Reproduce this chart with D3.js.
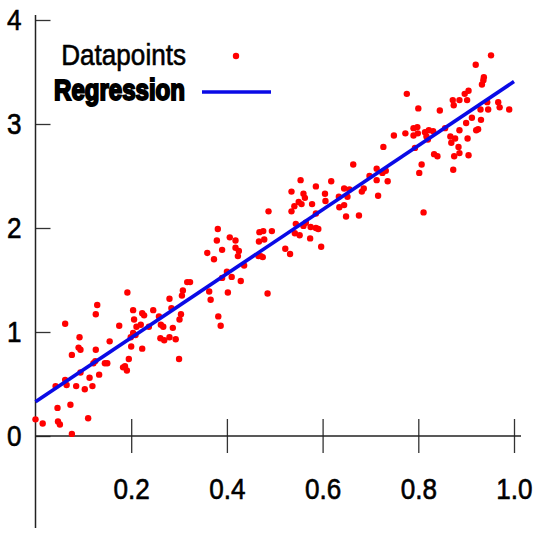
<!DOCTYPE html>
<html>
<head>
<meta charset="utf-8">
<script src="https://cdn.jsdelivr.net/npm/d3@7"></script>
<style>
  html, body { margin: 0; padding: 0; background: #fff; }
  svg { display: block; }
</style>
</head>
<body>
<svg width="536" height="536"></svg>
<script>
//data (x, y)
const points = [
  [0.000,0.16],[0.015,0.12],[0.076,0.02],[0.047,0.14],[0.051,0.11],[0.046,0.27],[0.073,0.30],[0.110,0.17],
  [0.042,0.48],[0.062,0.54],[0.065,0.49],[0.085,0.48],[0.103,0.45],[0.094,0.61],[0.113,0.56],[0.119,0.48],
  [0.133,0.59],[0.076,0.78],[0.090,0.85],[0.094,0.83],[0.092,0.95],[0.062,1.08],[0.126,0.83],[0.121,0.70],
  [0.125,0.72],[0.145,0.70],[0.150,0.70],[0.155,0.91],[0.126,1.17],[0.129,1.26],[0.175,1.06],[0.192,1.38],
  [0.183,0.66],[0.187,0.67],[0.191,0.63],[0.195,0.74],[0.200,0.86],[0.223,0.84],[0.199,0.95],[0.204,0.99],
  [0.209,0.97],[0.211,1.05],[0.220,1.07],[0.206,1.12],[0.204,1.21],[0.223,1.18],[0.227,1.16],[0.246,1.21],
  [0.237,1.05],[0.258,1.15],[0.262,1.07],[0.267,1.05],[0.261,0.94],[0.269,0.92],[0.280,0.95],[0.293,0.93],
  [0.287,1.04],[0.300,0.74],[0.301,1.12],[0.304,1.17],[0.280,1.32],[0.284,1.23],[0.306,1.35],[0.308,1.40],
  [0.317,1.48],[0.323,1.48],
  [0.363,1.39],[0.366,1.31],[0.382,1.15],[0.387,1.06],[0.402,1.38],[0.390,1.52],[0.400,1.58],[0.410,1.53],
  [0.429,1.49],[0.436,1.64],[0.359,1.76],[0.373,1.70],[0.390,1.79],[0.379,1.88],[0.381,1.99],[0.406,1.91],
  [0.418,1.88],[0.418,1.81],[0.425,1.78],[0.423,1.73],[0.466,1.73],[0.471,1.73],[0.475,1.72],[0.467,1.87],
  [0.478,1.89],[0.468,1.96],[0.476,1.97],[0.494,1.97],[0.487,2.16],[0.485,1.37],[0.522,1.80],[0.532,1.75],
  [0.535,2.35],[0.535,2.16],[0.541,2.21],[0.550,2.25],[0.556,2.23],[0.560,2.33],[0.563,2.29],[0.554,2.46],
  [0.586,2.40],[0.618,2.45],[0.605,2.33],[0.606,2.26],[0.578,2.23],[0.586,2.14],[0.544,2.04],[0.542,1.95],
  [0.552,1.93],[0.560,2.02],[0.565,2.05],[0.575,2.01],[0.586,2.00],[0.591,1.99],[0.574,1.90],[0.597,1.82],
  [0.634,2.30],[0.635,2.20],
  [0.645,2.22],[0.649,2.11],[0.645,2.38],[0.656,2.37],[0.652,2.30],[0.676,2.12],[0.682,2.35],[0.686,2.38],
  [0.664,2.61],[0.698,2.50],[0.713,2.57],[0.713,2.46],[0.716,2.31],[0.725,2.53],[0.732,2.55],[0.736,2.45],
  [0.727,2.78],[0.749,2.89],[0.773,2.91],[0.776,3.29],[0.790,2.96],[0.790,2.89],[0.798,2.97],[0.799,2.91],
  [0.793,2.77],[0.800,3.15],[0.807,2.61],[0.802,2.53],[0.811,2.15],[0.814,2.92],[0.817,2.88],[0.822,2.94],
  [0.820,2.85],[0.831,2.93],[0.833,2.71],[0.840,2.69],[0.845,3.13],[0.856,2.96],[0.867,2.88],[0.869,2.82],
  [0.877,2.86],[0.875,2.69],[0.884,2.78],[0.886,2.72],[0.873,2.56],[0.886,2.94],[0.872,3.23],[0.874,3.18],
  [0.886,3.23],[0.897,3.29],[0.905,3.32],[0.902,3.23],[0.900,3.01],[0.903,2.86],[0.905,2.70],[0.912,3.06],
  [0.921,2.94],[0.925,2.95],[0.931,3.04],[0.930,3.14],[0.946,3.14],[0.944,3.21],[0.933,3.38],[0.936,3.42],
  [0.937,3.45],[0.920,3.57],[0.952,3.66],[0.967,3.21],[0.970,3.16],[0.990,3.14]
];

const xTicks = [0.2, 0.4, 0.6, 0.8, 1.0];
const yTicks = [0, 1, 2, 3, 4];
const legendLabels = ['Datapoints', 'Regression'];

//least squares fit
const mx = d3.mean(points, d => d[0]);
const my = d3.mean(points, d => d[1]);
const slope = d3.sum(points, d => (d[0] - mx) * (d[1] - my)) / d3.sum(points, d => (d[0] - mx) ** 2);
const intercept = my - slope * mx;
const fit = [0, 1].map(v => [v, intercept + slope * v]);

//set up
const svg = d3.select('svg');
const font = '"Liberation Sans", Arial, sans-serif';
const squeeze = 0.9;

const x = d3.scaleLinear().domain([0, 1]).range([35.5, 514]);
const y = d3.scaleLinear().domain([0, 4]).range([436, 20]);

//axes
const gx = svg.append('g')
  .attr('transform', `translate(0,${y(0)})`)
  .call(d3.axisBottom(x).tickValues(xTicks).tickFormat(d3.format('.1f')).tickSize(17).tickPadding(25));
gx.select('.domain').remove();
gx.selectAll('.tick line').attr('y1', -17).attr('stroke', '#333').attr('stroke-width', 1.3);
gx.selectAll('.tick text')
  .attr('font-family', font).attr('font-size', 29).attr('fill', '#000')
  .attr('stroke', '#000').attr('stroke-width', 0.6)
  .attr('transform', `scale(${squeeze},1)`);

const gy = svg.append('g')
  .attr('transform', `translate(${x(0)},0)`)
  .call(d3.axisLeft(y).tickValues(yTicks).tickFormat(d3.format('d')).tickSize(-15).tickPadding(14));
gy.select('.domain').remove();
gy.selectAll('.tick line').attr('stroke', '#333').attr('stroke-width', 1.3);
gy.selectAll('.tick text')
  .attr('font-family', font).attr('font-size', 29).attr('fill', '#000')
  .attr('stroke', '#000').attr('stroke-width', 0.6)
  .attr('x', -14 / squeeze)
  .attr('transform', `scale(${squeeze},1)`);

svg.append('line')
  .attr('x1', x(0)).attr('x2', x(0))
  .attr('y1', y(4) - 5).attr('y2', 528)
  .attr('stroke', '#222').attr('stroke-width', 1.5);
svg.append('line')
  .attr('x1', x(0)).attr('x2', x(1) + 7)
  .attr('y1', y(0)).attr('y2', y(0))
  .attr('stroke', '#222').attr('stroke-width', 1.5);

//points
svg.append('g')
  .selectAll('circle')
  .data(points)
  .join('circle')
  .attr('cx', d => x(d[0]))
  .attr('cy', d => y(d[1]))
  .attr('r', 3.2)
  .attr('fill', '#ff0000');

//regression line
svg.append('path')
  .datum(fit)
  .attr('d', d3.line().x(d => x(d[0])).y(d => y(d[1])))
  .attr('fill', 'none')
  .attr('stroke', '#0a0ae6')
  .attr('stroke-width', 3.6);

//legend
const legend = svg.append('g').attr('font-family', font).attr('font-size', 29).attr('fill', '#000');
legend.append('text')
  .text(legendLabels[0])
  .attr('text-anchor', 'end')
  .attr('stroke', '#000').attr('stroke-width', 0.6)
  .attr('transform', `translate(186,65) scale(${squeeze},1)`);
legend.append('text')
  .text(legendLabels[1])
  .attr('text-anchor', 'end')
  .attr('font-weight', 'bold')
  .attr('stroke', '#000')
  .attr('stroke-width', 2)
  .attr('transform', 'translate(185,100) scale(0.83,1)');
legend.append('circle')
  .attr('cx', 236).attr('cy', 56).attr('r', 3.2).attr('fill', '#ff0000');
legend.append('line')
  .attr('x1', 202).attr('x2', 271).attr('y1', 92).attr('y2', 92)
  .attr('stroke', '#0a0ae6').attr('stroke-width', 3.6);
</script>
</body>
</html>
